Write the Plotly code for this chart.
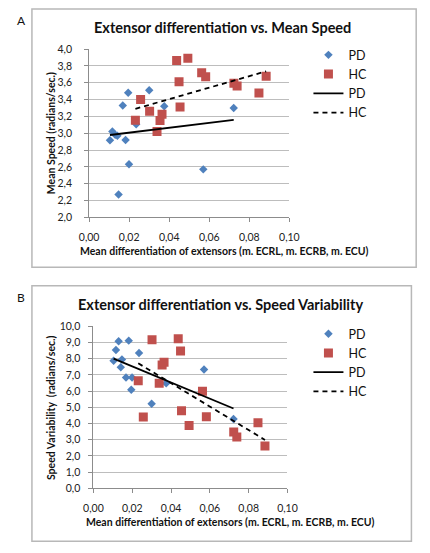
import numpy as np
import plotly.graph_objects as go

# ---------------- data ----------------
pd_x = [0.0104, 0.0116, 0.0130, 0.0141, 0.0147, 0.0168, 0.0182, 0.0195, 0.0199,
        0.0235, 0.0300, 0.0375, 0.0570, 0.0722]
pd_speed = [2.915, 3.02, 2.98, 2.97, 2.27, 3.33, 2.92, 3.48, 2.63,
            3.105, 3.51, 3.32, 2.57, 3.30]
pd_var = [7.87, 8.53, 9.07, 7.47, 7.95, 6.83, 9.11, 6.08, 6.83,
          8.35, 5.22, 6.48, 7.33, 4.28]

hc_x = [0.0231, 0.0257, 0.0302, 0.0339, 0.0354, 0.0364, 0.0437, 0.0449, 0.0454,
        0.0493, 0.0562, 0.0582, 0.0723, 0.0739, 0.0848, 0.0884]
hc_speed = [3.155, 3.40, 3.26, 3.02, 3.15, 3.225, 3.864, 3.61, 3.31,
            3.89, 3.717, 3.67, 3.593, 3.56, 3.477, 3.678]
hc_var = [6.63, 4.40, 9.17, 6.48, 7.61, 7.77, 9.23, 8.47, 4.78,
          3.87, 5.98, 4.42, 3.47, 3.17, 4.05, 2.61]

title_a = "Extensor differentiation vs. Mean Speed"
title_b = "Extensor differentiation vs. Speed Variability"
xlabel = "Mean differentiation of extensors (m. ECRL, m. ECRB, m. ECU)"
ylabel_a = "Mean Speed (radians/sec.)"
ylabel_b = "Speed Variability  (radians/sec.)"

W, H = 430, 553
FONT = "Lato"
BLUE = "#4f81bd"
RED = "#c0504d"


def px(x):
    return x / W


def py(y):
    return 1 - y / H


def trend(xs, ys):
    k, b = np.polyfit(xs, ys, 1)
    xx = np.array([min(xs), max(xs)])
    return xx, k * xx + b


fig = go.Figure()

panels = [
    dict(xa="x", ya="y", leg="legend", ys_pd=pd_speed, ys_hc=hc_speed),
    dict(xa="x2", ya="y2", leg="legend2", ys_pd=pd_var, ys_hc=hc_var),
]
for p in panels:
    fig.add_trace(go.Scatter(x=pd_x, y=p["ys_pd"], mode="markers", name="PD",
                             marker=dict(symbol="diamond", size=6.5, color=BLUE),
                             xaxis=p["xa"], yaxis=p["ya"], legend=p["leg"]))
    fig.add_trace(go.Scatter(x=hc_x, y=p["ys_hc"], mode="markers", name="HC",
                             marker=dict(symbol="square", size=9, color=RED),
                             xaxis=p["xa"], yaxis=p["ya"], legend=p["leg"]))
    tx, ty = trend(pd_x, p["ys_pd"])
    fig.add_trace(go.Scatter(x=tx, y=ty, mode="lines", name="PD",
                             line=dict(color="black", width=1.8),
                             xaxis=p["xa"], yaxis=p["ya"], legend=p["leg"]))
    tx, ty = trend(hc_x, p["ys_hc"])
    fig.add_trace(go.Scatter(x=tx, y=ty, mode="lines", name="HC",
                             line=dict(color="black", width=1.8, dash="5px,4px"),
                             xaxis=p["xa"], yaxis=p["ya"], legend=p["leg"]))

axis_common = dict(gridcolor="#bdbdbd", gridwidth=1,
                   showline=True, linecolor="#8c8c8c", linewidth=1,
                   ticks="outside", ticklen=4, tickcolor="#8c8c8c",
                   zeroline=False,
                   tickfont=dict(family=FONT, size=10.5, color="#222"))

fig.update_layout(
    width=W, height=H, margin=dict(l=0, r=0, t=0, b=0),
    paper_bgcolor="white", plot_bgcolor="white",
    separators=", ",
    font=dict(family=FONT, color="#111"),
    xaxis=dict(domain=[px(83), px(293)], range=[0, 0.1], dtick=0.02,
               tickformat=".2f", anchor="y", showgrid=False,
               ticklabelstandoff=6, **axis_common),
    yaxis=dict(domain=[py(216), py(44)], range=[2.0, 4.0], dtick=0.2,
               tickformat=".1f", anchor="x", showgrid=True,
               ticklabelstandoff=10, **axis_common),
    xaxis2=dict(domain=[px(87.5), px(291)], range=[0, 0.1], dtick=0.02,
                tickformat=".2f", anchor="y2", showgrid=False,
                ticklabelstandoff=6, **axis_common),
    yaxis2=dict(domain=[py(493), py(327.3)], range=[0, 10], dtick=1,
                tickformat=".1f", anchor="x2", showgrid=True,
                ticklabelstandoff=6, **axis_common),
    legend=dict(x=px(313), y=py(35), xanchor="left", yanchor="top",
                font=dict(family=FONT, size=12.5, color="#111"),
                bgcolor="rgba(0,0,0,0)", tracegroupgap=0),
    legend2=dict(x=px(313), y=py(320), xanchor="left", yanchor="top",
                 font=dict(family=FONT, size=12.5, color="#111"),
                 bgcolor="rgba(0,0,0,0)", tracegroupgap=0),
    showlegend=True,
)

# panel boxes
fig.add_shape(type="rect", xref="paper", yref="paper",
              x0=px(23), x1=px(426), y0=py(267), y1=py(3),
              line=dict(color="#b8b8b8", width=1.5), layer="below")
fig.add_shape(type="rect", xref="paper", yref="paper",
              x0=px(23), x1=px(421), y0=py(547), y1=py(286),
              line=dict(color="#b8b8b8", width=1.5), layer="below")

ann = [
    dict(text="A", x=px(12), y=py(15), size=12, bold=False),
    dict(text="B", x=px(12), y=py(298), size=12, bold=False),
    dict(text=title_a, x=px(223), y=py(22), size=14.5, bold=True),
    dict(text=title_b, x=px(221), y=py(305), size=14.5, bold=True),
    dict(text=xlabel, x=px(225), y=py(250), size=10.5, bold=True),
    dict(text=xlabel, x=px(231), y=py(527), size=10.5, bold=True),
]
for a in ann:
    t = f"<b>{a['text']}</b>" if a["bold"] else a["text"]
    fig.add_annotation(text=t, x=a["x"], y=a["y"], xref="paper", yref="paper",
                       showarrow=False, xanchor="center", yanchor="middle",
                       font=dict(family=FONT, size=a["size"], color="#111"))
for txt, yc in [(ylabel_a, 130), (ylabel_b, 411)]:
    fig.add_annotation(text=f"<b>{txt}</b>", x=px(43), y=py(yc), xref="paper",
                       yref="paper", showarrow=False, textangle=-90,
                       xanchor="center", yanchor="middle",
                       font=dict(family=FONT, size=10.5, color="#111"))

fig.write_html("out.html",
               config={"displayModeBar": False},
               post_script="document.body.style.margin='0px';")
